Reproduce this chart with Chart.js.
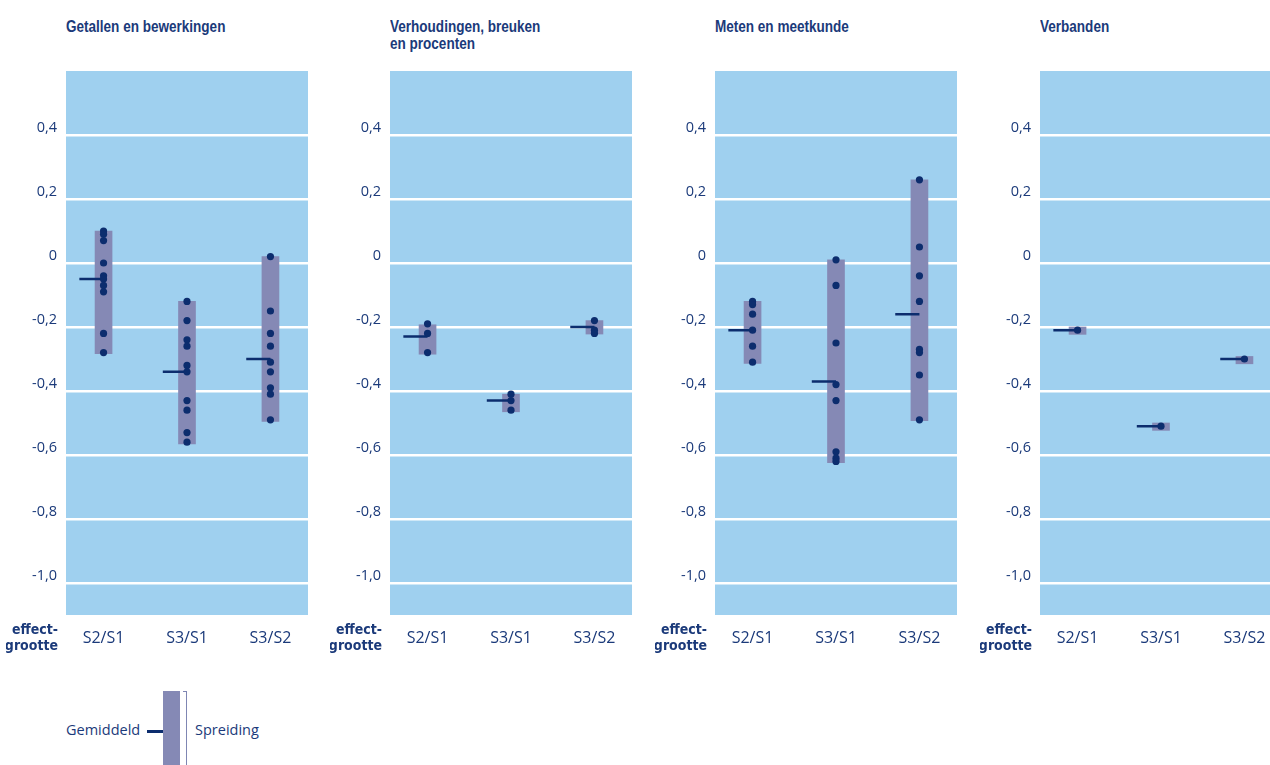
<!DOCTYPE html>
<html>
<head>
<meta charset="utf-8">
<script src="https://cdn.jsdelivr.net/npm/chart.js@4/dist/chart.umd.min.js"></script>
<style>
  html, body { margin: 0; padding: 0; background: #fff; overflow: hidden; width: 1270px; height: 765px; }
  .title { position: absolute; top: 18px; font: bold 16.5px 'Liberation Sans', sans-serif; color: #1b3a7a; line-height: 17px;
           transform: scaleX(0.82); transform-origin: left top; white-space: nowrap; }
  canvas { position: absolute; top: 60px; }
  .lg { position: absolute; font: 14.5px 'Open Sans', sans-serif; color: #1b3a7a; }
</style>
</head>
<body>
<div class="title" style="left:66px">Getallen en bewerkingen</div>
<div class="title" style="left:390px">Verhoudingen, breuken<br>en procenten</div>
<div class="title" style="left:715px">Meten en meetkunde</div>
<div class="title" style="left:1040px">Verbanden</div>

<canvas id="c0" width="306" height="610" style="left:6px"></canvas>
<canvas id="c1" width="306" height="610" style="left:330px"></canvas>
<canvas id="c2" width="306" height="610" style="left:655px"></canvas>
<canvas id="c3" width="306" height="610" style="left:980px"></canvas>

<!-- legenda -->
<div class="lg" style="left:66px; top:720px">Gemiddeld</div>
<div style="position:absolute; left:147px; top:730px; width:24px; height:2.5px; background:#0c2d6e"></div>
<div style="position:absolute; left:163px; top:691px; width:17px; height:74px; background:#8589b5"></div>
<div style="position:absolute; left:186px; top:691px; width:1px; height:74px; background:#7f86b3"></div>
<div style="position:absolute; left:183px; top:691px; width:4px; height:1px; background:#7f86b3"></div>
<div class="lg" style="left:195px; top:720px">Spreiding</div>

<script>
const categories = ['S2/S1', 'S3/S1', 'S3/S2'];
const yTicks = [0.4, 0.2, 0, -0.2, -0.4, -0.6, -0.8, -1.0];

// Getallen en bewerkingen
const getallenPoints = [
  [0.10, 0.09, 0.07, 0.00, -0.04, -0.05, -0.07, -0.09, -0.22, -0.28],
  [-0.12, -0.18, -0.24, -0.26, -0.32, -0.34, -0.43, -0.46, -0.53, -0.56],
  [0.02, -0.15, -0.22, -0.26, -0.31, -0.34, -0.39, -0.41, -0.49]
];
const getallenMeans = [-0.05, -0.34, -0.30];
const getallenLow = [-0.283, -0.565, -0.495];
const getallenHigh = [0.10, -0.12, 0.02];

// Verhoudingen, breuken en procenten
const verhoudingenPoints = [
  [-0.19, -0.22, -0.28],
  [-0.41, -0.43, -0.46],
  [-0.18, -0.21, -0.22]
];
const verhoudingenMeans = [-0.23, -0.43, -0.20];
const verhoudingenLow = [-0.285, -0.465, -0.222];
const verhoudingenHigh = [-0.193, -0.41, -0.18];

// Meten en meetkunde
const metenPoints = [
  [-0.12, -0.13, -0.16, -0.21, -0.26, -0.31],
  [0.01, -0.07, -0.25, -0.38, -0.43, -0.59, -0.61, -0.62],
  [0.26, 0.05, -0.04, -0.12, -0.27, -0.28, -0.35, -0.49]
];
const metenMeans = [-0.21, -0.37, -0.16];
const metenLow = [-0.314, -0.624, -0.493];
const metenHigh = [-0.12, 0.01, 0.26];

// Verbanden
const verbandenPoints = [[-0.21], [-0.51], [-0.30]];
const verbandenMeans = [-0.21, -0.51, -0.30];
const verbandenLow = [-0.223, -0.523, -0.315];
const verbandenHigh = [-0.20, -0.50, -0.292];

const navy = '#0c2d6e';
const textColor = '#1b3a7a';
const plotBg = '#9fd0ef';
const barColor = '#8589b5';

const bgPlugin = {
  id: 'bg',
  beforeDraw(chart) {
    const { ctx, chartArea: a } = chart;
    ctx.save();
    ctx.fillStyle = plotBg;
    ctx.fillRect(a.left, a.top, a.right - a.left, a.bottom - a.top);
    ctx.restore();
  },
  afterDraw(chart) {
    const { ctx, chartArea: a } = chart;
    ctx.save();
    ctx.fillStyle = textColor;
    ctx.font = 'bold 14px "DejaVu Sans Condensed", "Liberation Sans", sans-serif';
    ctx.textAlign = 'right';
    ctx.textBaseline = 'middle';
    ctx.fillText('effect-', a.left - 8, a.bottom + 15);
    ctx.fillText('grootte', a.left - 8, a.bottom + 31);
    ctx.restore();
  }
};

function makeChart(id, points, means, low, high) {
  const dots = [];
  points.forEach((arr, i) => arr.forEach(v => dots.push({ x: i + 1, y: v })));
  const meanLine = [];
  means.forEach((m, i) => {
    meanLine.push({ x: i + 1 - 0.29, y: m }, { x: i + 1, y: m }, { x: i + 1.5, y: null });
  });
  const bars = low.map((lo, i) => ({ x: i + 1, y: [lo, high[i]] }));

  new Chart(document.getElementById(id), {
    type: 'bar',
    data: {
      datasets: [
        { type: 'bar', data: bars, backgroundColor: barColor, barThickness: 17, order: 3 },
        { type: 'line', data: meanLine, borderColor: navy, borderWidth: 2.5, pointRadius: 0, spanGaps: false, order: 2 },
        { type: 'scatter', data: dots, backgroundColor: navy, borderWidth: 0, pointRadius: 3.6, order: 1 }
      ]
    },
    options: {
      responsive: false,
      animation: false,
      devicePixelRatio: 1,
      layout: { padding: { top: 11, left: 0, right: 0, bottom: 0 } },
      plugins: { legend: { display: false }, tooltip: { enabled: false } },
      scales: {
        x: {
          type: 'linear', min: 0.55, max: 3.45, offset: false,
          grid: { display: false }, border: { display: false },
          afterBuildTicks: s => { s.ticks = categories.map((c, i) => ({ value: i + 1 })); },
          afterFit: s => { s.height = 55; s.paddingLeft = 0; s.paddingRight = 0; },
          ticks: {
            padding: 6, color: textColor, font: { family: 'Open Sans', size: 16 },
            maxRotation: 0, autoSkip: false,
            callback: v => categories[v - 1]
          }
        },
        y: {
          min: -1.1, max: 0.6,
          grid: { color: '#ffffff', lineWidth: 2.5, drawTicks: false }, border: { display: false },
          afterBuildTicks: s => { s.ticks = yTicks.map(v => ({ value: v })); },
          afterFit: s => { s.width = 60; s.paddingTop = 0; s.paddingBottom = 0; },
          ticks: {
            padding: 9, labelOffset: -7, color: textColor, font: { family: 'Open Sans', size: 14.5 },
            callback: v => v === 0 ? '0' : v.toFixed(1).replace('.', ',')
          }
        }
      }
    },
    plugins: [bgPlugin]
  });
}

makeChart('c0', getallenPoints, getallenMeans, getallenLow, getallenHigh);
makeChart('c1', verhoudingenPoints, verhoudingenMeans, verhoudingenLow, verhoudingenHigh);
makeChart('c2', metenPoints, metenMeans, metenLow, metenHigh);
makeChart('c3', verbandenPoints, verbandenMeans, verbandenLow, verbandenHigh);
</script>
</body>
</html>
